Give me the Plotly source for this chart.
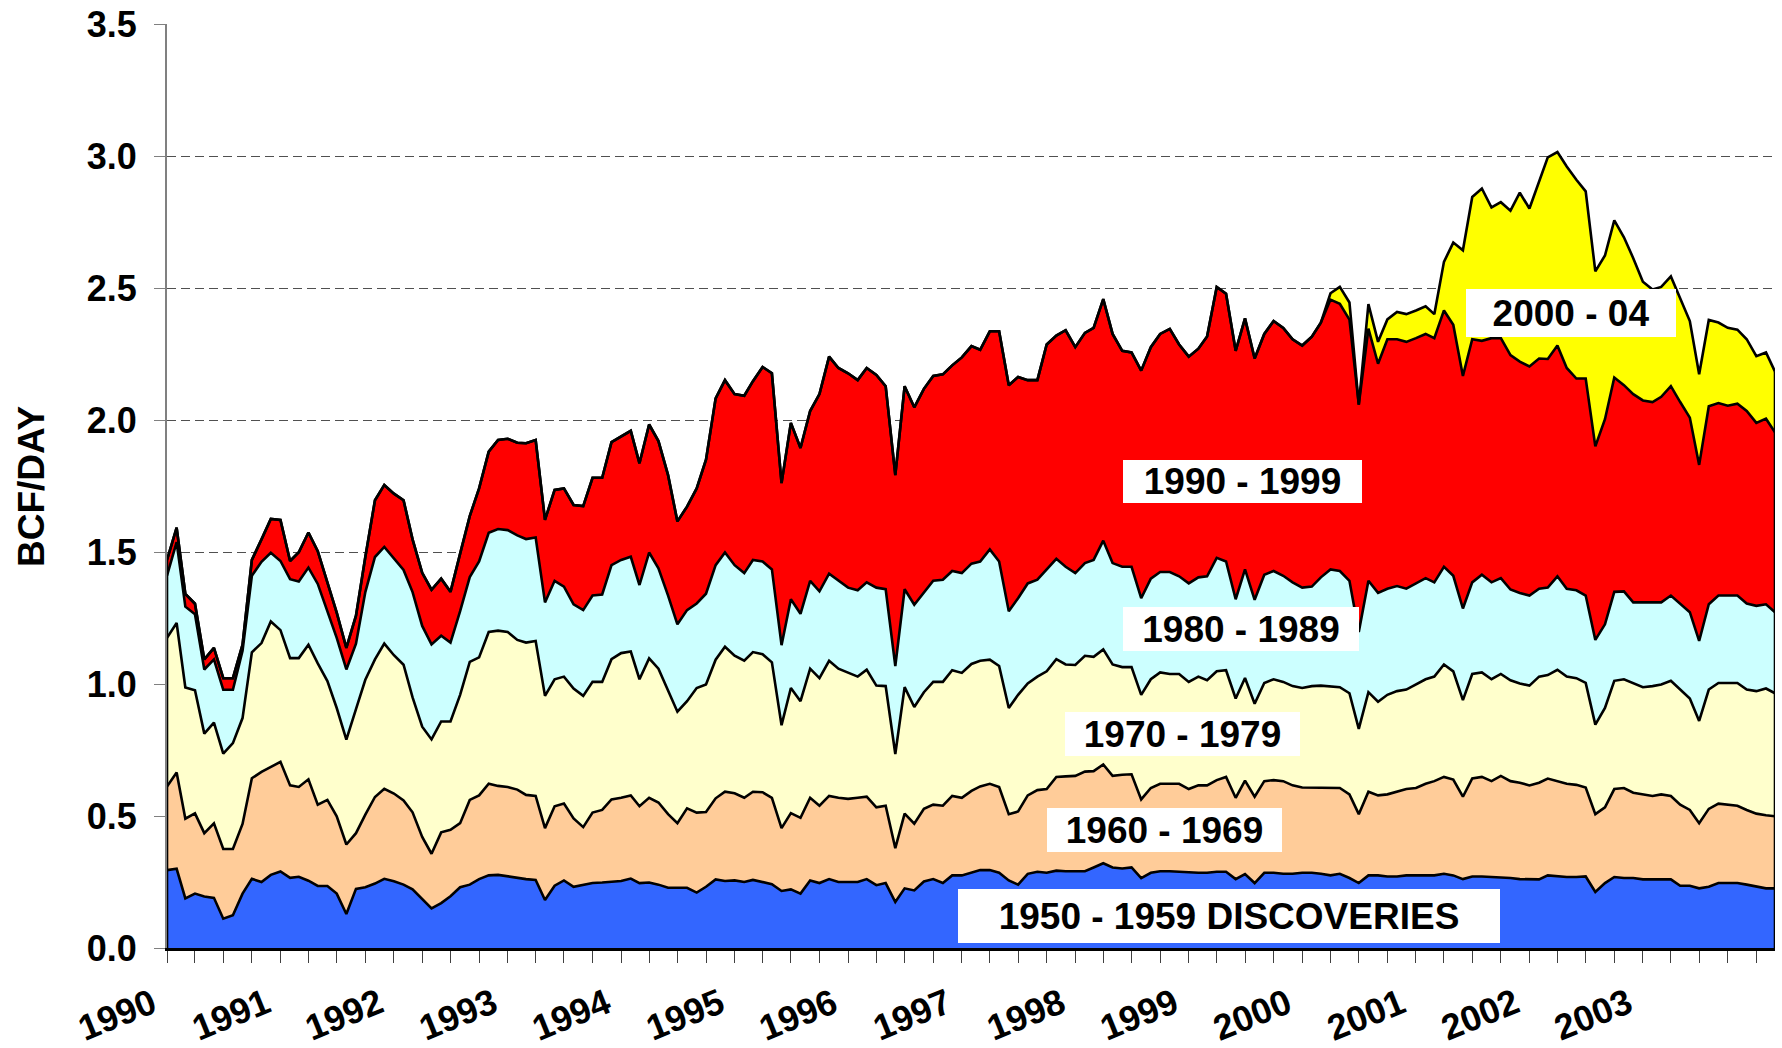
import pandas as pd
import plotly.graph_objects as go

# Monthly periods, Jan 1990 .. Mar 2004
months = pd.date_range("1990-01-01", periods=171, freq="MS")

# Cumulative (stacked) tops of each discovery-decade band, BCF/DAY
top_1950s = [
    0.295, 0.300, 0.188, 0.206, 0.195, 0.190, 0.111, 0.124, 0.206, 0.262, 0.250, 0.277,  # 1990
    0.290, 0.266, 0.270, 0.255, 0.235, 0.235, 0.206, 0.129, 0.224, 0.230, 0.244, 0.262,  # 1991
    0.253, 0.240, 0.222, 0.186, 0.150, 0.170, 0.196, 0.230, 0.240, 0.261, 0.275, 0.277,  # 1992
    0.271, 0.267, 0.261, 0.258, 0.182, 0.236, 0.256, 0.232, 0.240, 0.246, 0.248, 0.252,  # 1993
    0.254, 0.263, 0.246, 0.248, 0.240, 0.228, 0.228, 0.228, 0.210, 0.232, 0.260, 0.254,  # 1994
    0.256, 0.250, 0.258, 0.250, 0.242, 0.216, 0.222, 0.206, 0.256, 0.246, 0.261, 0.250,  # 1995
    0.250, 0.250, 0.261, 0.238, 0.246, 0.174, 0.226, 0.218, 0.252, 0.261, 0.246, 0.275,  # 1996
    0.275, 0.285, 0.295, 0.295, 0.285, 0.256, 0.240, 0.281, 0.289, 0.285, 0.293, 0.291,  # 1997
    0.291, 0.291, 0.305, 0.321, 0.305, 0.301, 0.305, 0.265, 0.285, 0.291, 0.291, 0.289,  # 1998
    0.285, 0.285, 0.285, 0.289, 0.289, 0.261, 0.280, 0.246, 0.285, 0.285, 0.281, 0.281,  # 1999
    0.285, 0.285, 0.281, 0.275, 0.281, 0.265, 0.246, 0.275, 0.275, 0.271, 0.271, 0.275,  # 2000
    0.275, 0.275, 0.275, 0.281, 0.275, 0.261, 0.271, 0.271, 0.269, 0.269, 0.265, 0.261,  # 2001
    0.260, 0.260, 0.275, 0.271, 0.269, 0.269, 0.271, 0.212, 0.246, 0.269, 0.265, 0.265,  # 2002
    0.260, 0.260, 0.260, 0.260, 0.236, 0.236, 0.226, 0.232, 0.246, 0.246, 0.246, 0.240,  # 2003
    0.232, 0.226, 0.226,                                                                  # 2004
]
top_1960s = [
    0.612, 0.665, 0.490, 0.510, 0.435, 0.472, 0.375, 0.375, 0.470, 0.643, 0.667, 0.687,
    0.705, 0.616, 0.610, 0.639, 0.543, 0.561, 0.499, 0.392, 0.435, 0.505, 0.572, 0.603,
    0.585, 0.559, 0.514, 0.421, 0.357, 0.438, 0.448, 0.473, 0.561, 0.578, 0.622, 0.614,
    0.610, 0.600, 0.580, 0.576, 0.454, 0.537, 0.547, 0.491, 0.458, 0.513, 0.523, 0.563,
    0.569, 0.578, 0.537, 0.569, 0.551, 0.507, 0.473, 0.529, 0.513, 0.515, 0.567, 0.592,
    0.586, 0.569, 0.592, 0.590, 0.569, 0.454, 0.511, 0.493, 0.569, 0.539, 0.576, 0.569,
    0.565, 0.569, 0.573, 0.533, 0.539, 0.378, 0.509, 0.471, 0.527, 0.543, 0.539, 0.576,
    0.569, 0.595, 0.612, 0.622, 0.610, 0.507, 0.517, 0.578, 0.598, 0.602, 0.648, 0.650,
    0.652, 0.668, 0.670, 0.695, 0.652, 0.656, 0.658, 0.563, 0.606, 0.622, 0.622, 0.622,
    0.602, 0.616, 0.616, 0.636, 0.648, 0.569, 0.634, 0.573, 0.632, 0.636, 0.632, 0.616,
    0.608, 0.608, 0.608, 0.608, 0.606, 0.582, 0.507, 0.592, 0.578, 0.582, 0.592, 0.602,
    0.606, 0.622, 0.632, 0.648, 0.638, 0.573, 0.642, 0.648, 0.632, 0.652, 0.632, 0.626,
    0.616, 0.626, 0.642, 0.632, 0.622, 0.618, 0.608, 0.507, 0.533, 0.602, 0.606, 0.588,
    0.582, 0.576, 0.582, 0.576, 0.543, 0.523, 0.473, 0.527, 0.547, 0.543, 0.539, 0.523,
    0.509, 0.503, 0.499,
]
top_1970s = [
    1.175, 1.231, 0.987, 0.976, 0.812, 0.854, 0.736, 0.776, 0.871, 1.120, 1.155, 1.237,
    1.204, 1.098, 1.098, 1.149, 1.078, 1.011, 0.909, 0.789, 0.905, 1.016, 1.093, 1.153,
    1.109, 1.073, 0.949, 0.838, 0.790, 0.858, 0.858, 0.959, 1.084, 1.101, 1.197, 1.202,
    1.197, 1.167, 1.157, 1.163, 0.955, 1.018, 1.028, 0.983, 0.955, 1.008, 1.008, 1.094,
    1.117, 1.123, 1.018, 1.097, 1.058, 0.975, 0.895, 0.935, 0.985, 0.998, 1.092, 1.141,
    1.107, 1.088, 1.121, 1.113, 1.082, 0.844, 0.985, 0.935, 1.058, 1.022, 1.088, 1.058,
    1.042, 1.028, 1.054, 0.994, 0.992, 0.735, 0.988, 0.913, 0.969, 1.008, 1.008, 1.052,
    1.042, 1.076, 1.088, 1.092, 1.068, 0.909, 0.959, 1.002, 1.028, 1.048, 1.094, 1.074,
    1.072, 1.107, 1.103, 1.131, 1.074, 1.064, 1.064, 0.959, 1.018, 1.044, 1.038, 1.038,
    1.008, 1.028, 1.014, 1.048, 1.052, 0.945, 1.023, 0.925, 1.004, 1.018, 1.008, 0.992,
    0.985, 0.992, 0.994, 0.992, 0.988, 0.965, 0.830, 0.969, 0.933, 0.959, 0.973, 0.979,
    0.998, 1.018, 1.028, 1.074, 1.048, 0.939, 1.038, 1.044, 1.018, 1.038, 1.014, 1.002,
    0.994, 1.028, 1.034, 1.054, 1.028, 1.022, 1.004, 0.846, 0.909, 1.012, 1.018, 1.002,
    0.988, 0.992, 0.998, 1.012, 0.979, 0.945, 0.860, 0.979, 1.004, 1.004, 1.004, 0.979,
    0.973, 0.983, 0.965,
]
top_1980s = [
    1.410, 1.537, 1.293, 1.264, 1.055, 1.093, 0.978, 0.978, 1.126, 1.410, 1.463, 1.497,
    1.466, 1.397, 1.388, 1.441, 1.379, 1.277, 1.175, 1.055, 1.153, 1.348, 1.481, 1.519,
    1.477, 1.432, 1.348, 1.220, 1.150, 1.183, 1.157, 1.276, 1.405, 1.464, 1.573, 1.587,
    1.583, 1.563, 1.549, 1.555, 1.309, 1.391, 1.369, 1.302, 1.280, 1.335, 1.339, 1.450,
    1.470, 1.482, 1.375, 1.498, 1.438, 1.335, 1.226, 1.280, 1.305, 1.342, 1.450, 1.498,
    1.450, 1.420, 1.470, 1.464, 1.434, 1.147, 1.321, 1.266, 1.391, 1.351, 1.418, 1.391,
    1.365, 1.355, 1.385, 1.365, 1.359, 1.068, 1.359, 1.300, 1.345, 1.391, 1.395, 1.428,
    1.420, 1.456, 1.464, 1.510, 1.464, 1.276, 1.325, 1.381, 1.395, 1.434, 1.474, 1.444,
    1.420, 1.458, 1.470, 1.543, 1.458, 1.444, 1.444, 1.325, 1.399, 1.424, 1.424, 1.408,
    1.381, 1.404, 1.408, 1.478, 1.464, 1.321, 1.434, 1.319, 1.414, 1.428, 1.410, 1.385,
    1.365, 1.369, 1.404, 1.434, 1.428, 1.391, 1.197, 1.391, 1.345, 1.361, 1.371, 1.361,
    1.381, 1.401, 1.385, 1.444, 1.410, 1.286, 1.385, 1.414, 1.385, 1.401, 1.358, 1.345,
    1.335, 1.361, 1.365, 1.408, 1.361, 1.355, 1.335, 1.167, 1.226, 1.349, 1.351, 1.309,
    1.309, 1.309, 1.309, 1.335, 1.305, 1.272, 1.163, 1.302, 1.335, 1.335, 1.335, 1.305,
    1.296, 1.302, 1.272,
]
top_1990s = [
    1.470, 1.592, 1.341, 1.304, 1.093, 1.137, 1.022, 1.022, 1.149, 1.470, 1.548, 1.625,
    1.621, 1.466, 1.499, 1.574, 1.503, 1.386, 1.270, 1.137, 1.259, 1.481, 1.696, 1.754,
    1.721, 1.696, 1.548, 1.421, 1.357, 1.399, 1.349, 1.494, 1.636, 1.741, 1.880, 1.924,
    1.929, 1.914, 1.912, 1.924, 1.622, 1.735, 1.741, 1.678, 1.674, 1.781, 1.781, 1.916,
    1.939, 1.959, 1.836, 1.983, 1.920, 1.791, 1.616, 1.672, 1.741, 1.850, 2.082, 2.151,
    2.098, 2.092, 2.147, 2.201, 2.177, 1.761, 1.989, 1.894, 2.034, 2.098, 2.240, 2.197,
    2.177, 2.151, 2.197, 2.171, 2.128, 1.791, 2.128, 2.048, 2.118, 2.167, 2.173, 2.207,
    2.237, 2.280, 2.266, 2.336, 2.336, 2.132, 2.163, 2.151, 2.151, 2.286, 2.320, 2.340,
    2.276, 2.330, 2.349, 2.458, 2.326, 2.262, 2.256, 2.187, 2.276, 2.326, 2.345, 2.286,
    2.240, 2.270, 2.316, 2.504, 2.478, 2.262, 2.385, 2.233, 2.326, 2.375, 2.349, 2.306,
    2.282, 2.316, 2.369, 2.456, 2.440, 2.380, 2.058, 2.346, 2.213, 2.306, 2.306, 2.296,
    2.310, 2.326, 2.310, 2.415, 2.361, 2.167, 2.306, 2.300, 2.310, 2.310, 2.246, 2.221,
    2.203, 2.233, 2.231, 2.282, 2.197, 2.157, 2.157, 1.900, 2.003, 2.161, 2.132, 2.098,
    2.074, 2.068, 2.088, 2.128, 2.068, 2.009, 1.830, 2.052, 2.064, 2.054, 2.062, 2.034,
    1.989, 2.005, 1.953,
]
# Total outline: identical to the 1990s top until 2000-04 production appears (Apr 2000)
top_2000s = top_1990s[:123] + [
    2.480, 2.504, 2.445, 2.058, 2.439, 2.296, 2.381, 2.409, 2.401,                        # 2000 Apr-Dec
    2.415, 2.431, 2.401, 2.599, 2.672, 2.643, 2.845, 2.877, 2.805, 2.825, 2.793, 2.861,  # 2001
    2.801, 2.900, 2.995, 3.015, 2.960, 2.910, 2.866, 2.563, 2.623, 2.756, 2.692, 2.613,  # 2002
    2.524, 2.494, 2.504, 2.544, 2.464, 2.375, 2.173, 2.379, 2.369, 2.349, 2.342, 2.306,  # 2003
    2.242, 2.256, 2.183,                                                                  # 2004
]

bands = [
    ("1950 - 1959", top_1950s, "#3366FF"),
    ("1960 - 1969", top_1960s, "#FFCC99"),
    ("1970 - 1979", top_1970s, "#FFFFCC"),
    ("1980 - 1989", top_1980s, "#CCFFFF"),
    ("1990 - 1999", top_1990s, "#FF0000"),
    ("2000 - 04", top_2000s, "#FFFF00"),
]

quarter_ticks = pd.date_range("1990-01-01", "2004-01-01", freq="QS")
year_labels = [str(y) for y in range(1990, 2004)]
y_ticks = [0.0, 0.5, 1.0, 1.5, 2.0, 2.5, 3.0, 3.5]

FONT = "Liberation Sans, Arial, sans-serif"

fig = go.Figure()
for k, (name, top, color) in enumerate(bands):
    fig.add_trace(go.Scatter(
        x=months, y=top, name=name, mode="lines",
        line=dict(color="black", width=2.6),
        fill="tozeroy" if k == 0 else "tonexty",
        fillcolor=color, showlegend=False, hoverinfo="x+y+name",
    ))

# Closing vertical edges of the stacked area
for idx in (0, len(months) - 1):
    fig.add_trace(go.Scatter(
        x=[months[idx], months[idx]], y=[0, top_2000s[idx]], mode="lines",
        line=dict(color="black", width=2.6), showlegend=False, hoverinfo="skip",
    ))

# Band labels on white boxes
labels = [
    ("2000 - 04", 0.8731, 0.6872, 210, 48),
    ("1990 - 1999", 0.6688, 0.5049, 239, 43),
    ("1980 - 1989", 0.6679, 0.3452, 236, 44),
    ("1970 - 1979", 0.6315, 0.2316, 235, 44),
    ("1960 - 1969", 0.6203, 0.1277, 235, 44),
    ("1950 - 1959 DISCOVERIES", 0.6604, 0.0346, 542, 54),
]
for text, xp, yp, w, h in labels:
    fig.add_annotation(
        text=text, x=xp, y=yp, xref="paper", yref="paper",
        xanchor="center", yanchor="middle", showarrow=False,
        width=w, height=h, align="center", valign="middle",
        bgcolor="white", borderpad=0, borderwidth=0,
        font=dict(family=FONT, size=37, color="black", weight="bold"),
    )

# Slanted year labels, ending just left of each January tick
for ylab in year_labels:
    fig.add_annotation(
        text=ylab, x=f"{ylab}-01-01", y=-0.035, xref="x", yref="paper",
        xanchor="right", yanchor="top", xshift=-5, showarrow=False, textangle=-22,
        borderpad=0, borderwidth=0,
        font=dict(family=FONT, size=36, color="black", weight="bold"),
    )

fig.add_annotation(
    text="BCF/DAY", x=-0.0846, y=0.5, xref="paper", yref="paper",
    xanchor="center", yanchor="middle", showarrow=False, textangle=-90,
    font=dict(family=FONT, size=37, color="black", weight="bold"),
)

fig.update_layout(
    width=1782, height=1048,
    margin=dict(l=167, r=7, t=24, b=100),
    paper_bgcolor="white", plot_bgcolor="white",
    font=dict(family=FONT, color="black"),
    showlegend=False,
)
fig.update_xaxes(
    range=[months[0], months[-1]], automargin=False,
    tickmode="array", tickvals=quarter_ticks, showticklabels=False,
    ticks="outside", ticklen=12, tickwidth=1, tickcolor="#404040",
    showline=True, linecolor="black", linewidth=2.5,
    showgrid=False, zeroline=False,
)
fig.update_yaxes(
    range=[0, 3.5], automargin=False,
    tickmode="array", tickvals=y_ticks, ticktext=[f"{v:.1f}" for v in y_ticks],
    ticks="outside", ticklen=11, tickwidth=1, tickcolor="#808080",
    tickfont=dict(family=FONT, size=36, color="black", weight="bold"),
    ticklabelstandoff=10, ticklabeloverflow="allow",
    showline=True, linecolor="#808080", linewidth=2, layer="below traces",
    showgrid=True, gridcolor="#505050", gridwidth=1, griddash="9px,5px",
    zeroline=False,
)

# Let the figure fill the whole window (drop the page's default body margin)
fig.write_html(
    "out.html",
    config={"displayModeBar": False},
    post_script="document.body.style.margin='0'; document.body.style.overflow='hidden';",
)
